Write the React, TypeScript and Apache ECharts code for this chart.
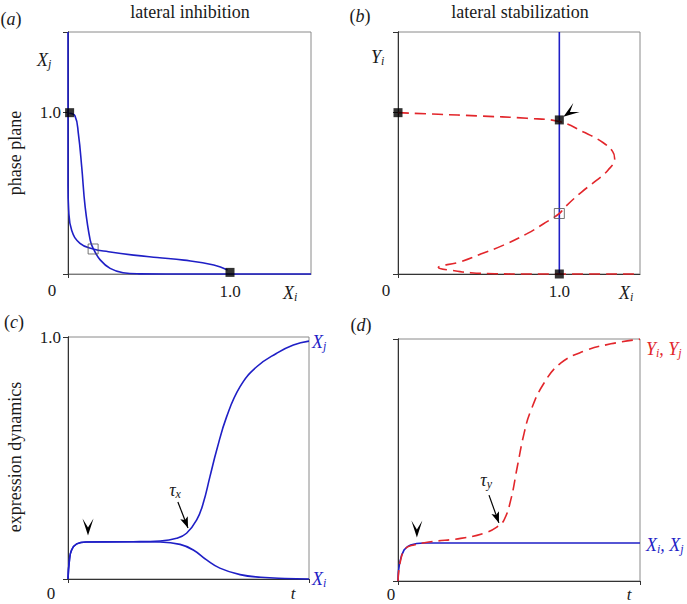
import React, { useEffect, useRef } from "react";
import * as echarts from "echarts";

const BLUE = "#1f1fc6";
const RED = "#e2262b";
const INK = "#1a1a1a";
const SERIF = "'Liberation Serif', 'Times New Roman', 'DejaVu Serif', serif";

// ---------------- data ----------------
// (a) lateral inhibition, phase plane [Xi, Xj]
const aNullclineA: number[][] = [
  [0, 1.5], [0, 0.9], [0, 0.55], [0.004, 0.4], [0.023, 0.27], [0.074, 0.19],
  [0.155, 0.155], [0.25, 0.138], [0.405, 0.117], [0.55, 0.102], [0.716, 0.086],
  [0.9, 0.056], [0.985, 0.025],
];
const aNullclineB: number[][] = [
  [0.008, 0.996], [0.043, 0.98], [0.064, 0.87], [0.085, 0.66], [0.106, 0.415],
  [0.137, 0.21], [0.157, 0.155], [0.2, 0.086], [0.26, 0.035], [0.34, 0.008],
  [0.44, 0.001], [0.6, 0], [1.5, 0],
];
const aStable: number[][] = [[0.01, 1.0], [1.0, 0.01]];
const aUnstable: number[][] = [[0.155, 0.155]];

// (b) lateral stabilization, phase plane [Xi, Yi]
const bXNullcline: number[][] = [[1, 0], [1, 1.5]];
const bYNullcline: number[][] = [
  [0, 1.0], [0.25, 0.99], [0.49, 0.98], [0.8, 0.965], [1.0, 0.945], [1.15, 0.88],
  [1.27, 0.815], [1.33, 0.76], [1.343, 0.715], [1.3, 0.642], [1.23, 0.58],
  [1.138, 0.508], [1.035, 0.415], [1.0, 0.375], [0.9, 0.31], [0.8, 0.25],
  [0.654, 0.179], [0.53, 0.13], [0.387, 0.076], [0.25, 0.04], [0.35, 0.02],
  [0.45, 0.008], [0.6, 0.002], [0.8, 0], [1.5, 0],
];
const bStable: number[][] = [[0, 1.0], [1.0, 0.955], [1.0, 0]];
const bUnstable: number[][] = [[1.0, 0.375]];

// (c) expression dynamics, lateral inhibition [t, level]
const cXj: number[][] = [
  [0, 0], [0.006, 0.079], [0.015, 0.12], [0.036, 0.145], [0.077, 0.153],
  [0.271, 0.154], [0.382, 0.157], [0.451, 0.168], [0.492, 0.189], [0.534, 0.244],
  [0.561, 0.313], [0.589, 0.423], [0.617, 0.533], [0.658, 0.67], [0.714, 0.795],
  [0.783, 0.877], [0.866, 0.933], [0.935, 0.967], [1.0, 0.983],
];
const cXi: number[][] = [
  [0, 0], [0.006, 0.079], [0.015, 0.12], [0.036, 0.145], [0.077, 0.153],
  [0.271, 0.154], [0.382, 0.153], [0.465, 0.143], [0.52, 0.12], [0.575, 0.079],
  [0.63, 0.045], [0.714, 0.018], [0.8, 0.007], [0.9, 0.002], [1.0, 0],
];

// (d) expression dynamics, lateral stabilization [t, level]
const dY: number[][] = [
  [0, 0], [0.011, 0.087], [0.032, 0.135], [0.066, 0.149], [0.135, 0.162],
  [0.259, 0.176], [0.355, 0.197], [0.41, 0.224], [0.438, 0.252], [0.466, 0.335],
  [0.493, 0.472], [0.521, 0.61], [0.548, 0.702], [0.603, 0.817], [0.672, 0.9],
  [0.77, 0.95], [0.88, 0.98], [1.0, 0.999],
];
const dX: number[][] = [
  [0, 0], [0.006, 0.07], [0.025, 0.128], [0.052, 0.149], [0.107, 0.157], [1.0, 0.157],
];

// axis ranges, ticks and tick labels per panel
const xMax = [1.5, 1.5, 1, 1];
const yMax = [1.5, 1.5, 1, 1];
const xTickValues = [[0], [0], [0, 1], [0, 1]];
const yTickValues = [[0, 1, 1.5], [0, 1, 1.5], [0, 1], [0, 1]];
const xTickLabels = [[1], [1], [], []];
const yTickLabels = [[1], [], [1], []];

// annotations (data coordinates)
const arrowheadsDown = [
  { g: 2, tip: [0.083, 0.18] },
  { g: 3, tip: [0.078, 0.18] },
];
const arrowheadB = { g: 1, tip: [1.025, 0.975], angle: 145 };
const tauArrows = [
  { g: 2, from: [0.456, 0.318], to: [0.498, 0.211], label: "{m|τ}{s|x}", at: [0.444, 0.368] },
  { g: 3, from: [0.376, 0.355], to: [0.417, 0.24], label: "{m|τ}{s|y}", at: [0.364, 0.417] },
];

// text labels
const panelTitles = ["lateral inhibition", "lateral stabilization"];
const rowLabels = ["phase plane", "expression dynamics"];
const panelLetters = ["a", "b", "c", "d"];

// ---------------- layout ----------------
const GRIDS = [
  { left: 68, top: 32, width: 243, height: 242 },
  { left: 398, top: 32, width: 242, height: 242 },
  { left: 68, top: 337, width: 241, height: 242 },
  { left: 398, top: 339, width: 242, height: 242 },
];

function dart(tip: number[], angleDeg: number, len: number, half: number, notch: number): number[][] {
  const a = (angleDeg * Math.PI) / 180;
  const ux = Math.cos(a), uy = Math.sin(a);
  const px = -uy, py = ux;
  const back = (d: number, w: number) => [tip[0] - ux * d + px * w, tip[1] - uy * d + py * w];
  return [tip, back(len, half), back(notch, 0), back(len, -half)];
}

const richStyles = (color: string) => ({
  m: { font: `italic 18px ${SERIF}`, fill: color, lineHeight: 20 },
  s: { font: `italic 12px ${SERIF}`, fill: color, verticalAlign: "bottom", lineHeight: 6 },
  u: { font: `18px ${SERIF}`, fill: color, lineHeight: 20 },
});

function label(text: string, x: number, y: number, color = INK, align = "left") {
  return {
    type: "text",
    x,
    y,
    silent: true,
    style: { text, rich: richStyles(color), fill: color, align, verticalAlign: "middle", font: `italic 18px ${SERIF}` },
  };
}

function plain(text: string, x: number, y: number, size = 17, rotation = 0, italic = false) {
  return {
    type: "text",
    x,
    y,
    rotation,
    silent: true,
    style: {
      text,
      fill: INK,
      align: "center",
      verticalAlign: "middle",
      font: `${italic ? "italic " : ""}${size}px ${SERIF}`,
    },
  };
}

export default function App() {
  const ref = useRef<HTMLDivElement>(null);

  useEffect(() => {
    if (!ref.current) return;
    const chart = echarts.init(ref.current, undefined, { renderer: "svg" });

    const grids = GRIDS.map((g) => ({ ...g, show: true, borderColor: "#8a8a8a", borderWidth: 1, containLabel: false }));

    const xAxes = GRIDS.map((_, i) => ({
      type: "value",
      gridIndex: i,
      min: 0,
      max: xMax[i],
      axisLine: { show: true, onZero: false, lineStyle: { color: i === 0 ? "#7a7a7a" : "#333", width: 1 } },
      axisTick: { show: true, customValues: xTickValues[i], length: 4, lineStyle: { color: "#333" } },
      axisLabel: {
        show: xTickLabels[i].length > 0,
        customValues: xTickLabels[i],
        formatter: (v: number) => v.toFixed(1),
        margin: 9,
        fontFamily: SERIF,
        fontSize: 17,
        color: INK,
      },
      splitLine: { show: false },
    }));

    const yAxes: any[] = GRIDS.map((_, i) => ({
      type: "value",
      gridIndex: i,
      min: 0,
      max: yMax[i],
      axisLine: { show: true, onZero: false, lineStyle: { color: "#222", width: 1 } },
      axisTick: { show: true, customValues: yTickValues[i], length: 5, lineStyle: { color: "#333" } },
      axisLabel: {
        show: yTickLabels[i].length > 0,
        customValues: yTickLabels[i],
        formatter: (v: number) => v.toFixed(1),
        margin: 7,
        fontFamily: SERIF,
        fontSize: 17,
        color: INK,
      },
      splitLine: { show: false },
    }));
    // right-hand frame lines
    GRIDS.forEach((_, i) => {
      yAxes.push({
        type: "value",
        gridIndex: i,
        position: "right",
        min: 0,
        max: 1,
        axisLine: { show: true, lineStyle: { color: "#333", width: 1 } },
        axisTick: { show: false },
        axisLabel: { show: false },
        splitLine: { show: false },
      });
    });

    const line = (g: number, data: number[][], color: string, dashed = false, z = 3) => ({
      type: "line",
      xAxisIndex: g,
      yAxisIndex: g,
      data,
      symbol: "none",
      smooth: 0.45,
      clip: false,
      silent: true,
      z,
      lineStyle: { color, width: 1.6, type: dashed ? [11, 6] : "solid" },
    });
    const squares = (g: number, data: number[][], filled: boolean) => ({
      type: "scatter",
      xAxisIndex: g,
      yAxisIndex: g,
      data,
      symbol: "rect",
      symbolSize: filled ? 9 : 10,
      clip: false,
      silent: true,
      z: 5,
      itemStyle: filled
        ? { color: "#000" }
        : { color: "rgba(255,255,255,0)", borderColor: "#555", borderWidth: 1 },
    });

    const series = [
      line(0, aNullclineA, BLUE),
      line(0, aNullclineB, BLUE),
      squares(0, aStable, true),
      squares(0, aUnstable, false),
      line(1, bXNullcline, BLUE),
      line(1, bYNullcline, RED, true, 4),
      squares(1, bStable, true),
      squares(1, bUnstable, false),
      line(2, cXj, BLUE),
      line(2, cXi, BLUE),
      line(3, dX, BLUE),
      line(3, dY, RED, true, 4),
    ];

    chart.setOption({
      animation: false,
      backgroundColor: "#fff",
      grid: grids,
      xAxis: xAxes,
      yAxis: yAxes,
      series,
    });

    const P = (g: number, v: number[]) =>
      chart.convertToPixel({ xAxisIndex: g, yAxisIndex: g } as any, v) as number[];

    const elements: any[] = [];
    // arrowheads
    arrowheadsDown.forEach((a) => {
      elements.push({
        type: "polygon",
        silent: true,
        shape: { points: dart(P(a.g, a.tip), 90, 17, 5.5, 8) },
        style: { fill: "#000" },
        z: 10,
      });
    });
    elements.push({
      type: "polygon",
      silent: true,
      shape: { points: dart(P(arrowheadB.g, arrowheadB.tip), arrowheadB.angle, 16, 5.5, 8) },
      style: { fill: "#000" },
      z: 10,
    });
    tauArrows.forEach((t) => {
      const a = P(t.g, t.from);
      const b = P(t.g, t.to);
      const ang = (Math.atan2(b[1] - a[1], b[0] - a[0]) * 180) / Math.PI;
      elements.push({
        type: "line",
        silent: true,
        shape: { x1: a[0], y1: a[1], x2: b[0], y2: b[1] },
        style: { stroke: "#000", lineWidth: 1.2 },
        z: 10,
      });
      elements.push({
        type: "polygon",
        silent: true,
        shape: { points: dart(b, ang, 11, 4, 8.5) },
        style: { fill: "#000" },
        z: 10,
      });
      const p = P(t.g, t.at);
      elements.push(label(t.label, p[0], p[1], INK, "center"));
    });

    // panel letters
    const letterPos = [[11, 19], [360, 16], [14, 322], [361, 325]];
    panelLetters.forEach((l, i) => {
      elements.push(label(`{u|(}{m|${l}}{u|)}`, letterPos[i][0], letterPos[i][1], INK, "center"));
    });
    // titles and row labels
    elements.push(plain(panelTitles[0], 190, 12, 18));
    elements.push(plain(panelTitles[1], 520, 12, 18));
    elements.push(plain(rowLabels[0], 15, 153, 18, Math.PI / 2));
    elements.push(plain(rowLabels[1], 15, 457, 18, Math.PI / 2));
    // origins and time labels
    elements.push(plain("0", 52, 290, 17));
    elements.push(plain("0", 386, 290, 17));
    elements.push(plain("0", 51, 593, 17));
    elements.push(plain("0", 391, 594, 17));
    elements.push(plain("t", 293, 593, 17, 0, true));
    elements.push(plain("t", 629, 594, 17, 0, true));
    // axis variable names
    elements.push(label("{m|X}{s|j}", 37, 60));
    elements.push(label("{m|X}{s|i}", 283, 293));
    elements.push(label("{m|Y}{s|i}", 371, 57));
    elements.push(label("{m|X}{s|i}", 619, 293));
    // curve labels
    elements.push(label("{m|X}{s|j}", 312, 342, BLUE));
    elements.push(label("{m|X}{s|i}", 312, 579, BLUE));
    elements.push(label("{m|Y}{s|i}{m|, Y}{s|j}", 646, 349, RED));
    elements.push(label("{m|X}{s|i}{m|, X}{s|j}", 646, 545, BLUE));

    chart.setOption({ graphic: { elements } });

    return () => chart.dispose();
  }, []);

  return (
    <div
      ref={ref}
      style={{ position: "absolute", left: 0, top: 0, width: 687, height: 604, background: "#fff" }}
    />
  );
}
